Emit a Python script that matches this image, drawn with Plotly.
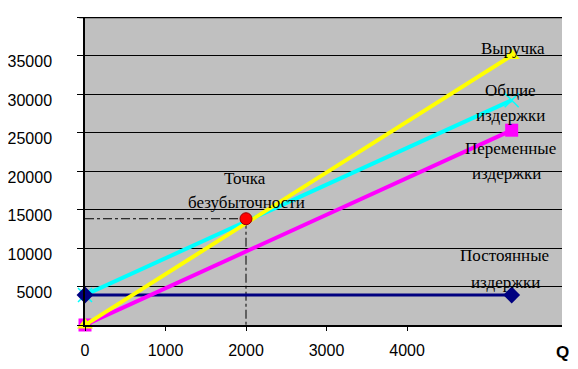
import plotly.graph_objects as go

# Data
Q = [0, 5300]
revenue = [0, 35000]
variable_costs = [0, 25300]
fixed_costs = [3900, 3900]
total_costs = [3900, 29200]
break_even_q = 2000
break_even_value = 13800

x_tick_vals = [0, 1000, 2000, 3000, 4000]
x_tick_text = ["0", "1000", "2000", "3000", "4000"]
y_tick_vals = [0, 5000, 10000, 15000, 20000, 25000, 30000, 35000, 40000]
y_tick_text = ["", "5000", "10000", "15000", "20000", "25000", "30000", "35000", ""]

labels = [
    ("Выручка", 5317, 35974),
    ("Общие", 5280, 30519),
    ("издержки", 5290, 27273),
    ("Переменные", 5280, 22987),
    ("издержки", 5240, 19740),
    ("Точка", 1988, 19091),
    ("безубыточности", 2000, 15974),
    ("Постоянные", 5205, 9091),
    ("издержки", 5217, 5584),
]

fig = go.Figure()

# guide lines to the break-even point
fig.add_trace(go.Scatter(
    x=[0, break_even_q, break_even_q], y=[break_even_value, break_even_value, 0],
    mode="lines", line=dict(color="black", width=1, dash="dashdot"),
    hoverinfo="skip", showlegend=False))

fig.add_trace(go.Scatter(
    x=Q, y=total_costs, mode="lines+markers", cliponaxis=False,
    line=dict(color="#00FFFF", width=4),
    marker=dict(symbol="x-thin", size=14, line=dict(color="#00FFFF", width=1.5)),
    name="Общие издержки", showlegend=False))

fig.add_trace(go.Scatter(
    x=Q, y=fixed_costs, mode="lines+markers", cliponaxis=False,
    line=dict(color="#000080", width=3),
    marker=dict(symbol="diamond", size=13, color="#000080"),
    name="Постоянные издержки", showlegend=False))

fig.add_trace(go.Scatter(
    x=Q, y=variable_costs, mode="lines+markers", cliponaxis=False,
    line=dict(color="#FF00FF", width=4),
    marker=dict(symbol="square", size=13, color="#FF00FF"),
    name="Переменные издержки", showlegend=False))

fig.add_trace(go.Scatter(
    x=Q, y=revenue, mode="lines+markers", cliponaxis=False,
    line=dict(color="#FFFF00", width=4),
    marker=dict(symbol="triangle-up", size=14, color="#FFFF00"),
    name="Выручка", showlegend=False))

fig.add_trace(go.Scatter(
    x=[break_even_q], y=[break_even_value], mode="markers", cliponaxis=False,
    marker=dict(symbol="circle", size=12, color="#FF0000",
                line=dict(color="#990000", width=1)),
    name="Точка безубыточности", showlegend=False))

for text, x, y in labels:
    fig.add_annotation(x=x, y=y, text=text, showarrow=False,
                       xanchor="center", yanchor="middle",
                       font=dict(family="Liberation Serif, Times New Roman, serif",
                                 size=17, color="black"))

fig.add_annotation(x=1.0, y=-0.09, xref="paper", yref="paper", text="<b>Q</b>",
                   showarrow=False, xanchor="center", yanchor="middle",
                   font=dict(family="Liberation Sans, Arial, sans-serif", size=17, color="black"))

# thick top border
fig.add_shape(type="line", xref="paper", yref="y", x0=-0.012, x1=1.0,
              y0=40000, y1=40000, line=dict(color="black", width=2.5))

fig.update_layout(
    width=570, height=353,
    margin=dict(l=77, r=16, t=9, b=36),
    paper_bgcolor="white", plot_bgcolor="#C0C0C0",
    showlegend=False,
    font=dict(family="Liberation Sans, Arial, sans-serif", size=16, color="black"),
    xaxis=dict(range=[0, 5925], tickvals=x_tick_vals, ticktext=x_tick_text,
               showgrid=False, zeroline=False, showline=True, linecolor="black",
               linewidth=1.5, ticks="outside", ticklen=4, tickcolor="black",
               ticklabelstandoff=6, tickfont=dict(size=16), automargin=False),
    yaxis=dict(range=[0, 40000], tickvals=y_tick_vals, ticktext=y_tick_text,
               showgrid=True, gridcolor="black", gridwidth=1, zeroline=False,
               showline=True, linecolor="black", linewidth=1.5,
               ticks="outside", ticklen=6, tickcolor="black",
               ticklabelstandoff=22, ticklabelshift=6,
               tickfont=dict(size=16), automargin=False),
)

fig.write_html("out.html")
